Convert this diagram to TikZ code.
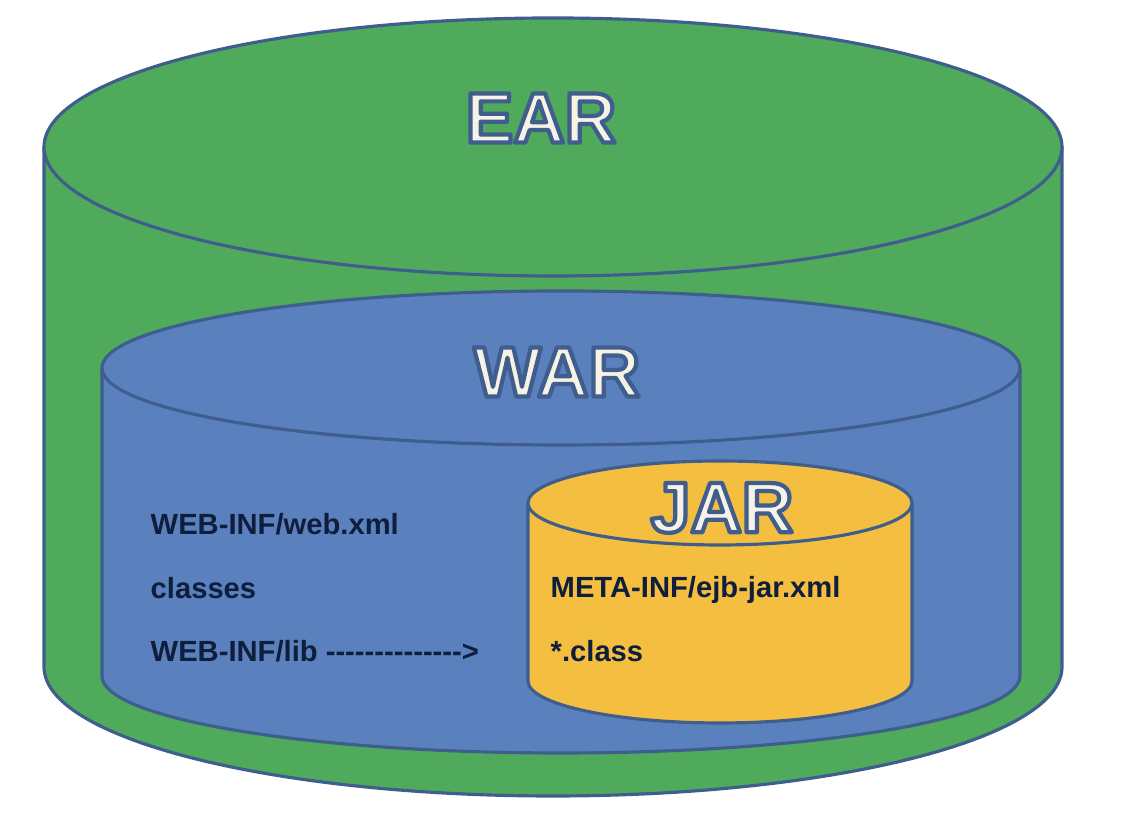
\documentclass[tikz,border=0pt]{standalone}
\usepackage{fontspec}
\setmainfont{Liberation Sans}[Ligatures=TeXOff]
\usepackage{xcolor}
\usepackage{tikz}
\usetikzlibrary{positioning, calc}

\definecolor{earGreen}{RGB}{79,171,91}
\definecolor{warBlue}{RGB}{90,128,189}
\definecolor{jarYellow}{RGB}{244,190,64}
\definecolor{rimBlue}{RGB}{63,94,142}
\definecolor{fileNavy}{RGB}{15,30,60}
\definecolor{titleWhite}{RGB}{246,243,230}

% outlined title text (fill and stroke)
\newcommand{\rimtext}[1]{\special{pdf:literal direct 2 Tr 1.2 w 1 j 0.247 0.369 0.557 RG}#1\special{pdf:literal direct 0 Tr}}

\tikzset{
  rim/.style={draw=rimBlue, line width=0.9pt},
  title/.style={font=\fontsize{20.3}{24}\selectfont\bfseries, text=titleWhite, inner sep=0pt},
  file/.style={font=\fontsize{8.3}{10}\selectfont\bfseries, text=fileNavy, anchor=base west, inner sep=0pt}
}

\begin{document}
\begin{tikzpicture}[x=0.01cm, y=0.01cm]
\useasboundingbox (0,0) rectangle (1124,816);

% Cylinders: name / centre x / top y / bottom y / radii / colour
\foreach \name/\cx/\ty/\by/\rx/\ry/\col in {
    ear/553/669/149/509/129/earGreen,
    war/561/448/140/459/77/warBlue,
    jar/720/313/135/192/42/jarYellow} {
   \fill[\col] (\cx-\rx,\ty) -- (\cx-\rx,\by) arc[start angle=180, end angle=360, x radius=\rx, y radius=\ry] -- (\cx+\rx,\ty) -- cycle;
   \draw[rim] (\cx-\rx,\ty) -- (\cx-\rx,\by) arc[start angle=180, end angle=360, x radius=\rx, y radius=\ry] -- (\cx+\rx,\ty);
   \draw[rim, fill=\col] (\cx,\ty) ellipse[x radius=\rx, y radius=\ry];
   \coordinate (\name top) at (\cx,\ty);
}

% Titles
\node[title] (eartitle) at (541,698) {\rimtext{EAR}};
\node[title] (wartitle) at (557,444) {\rimtext{WAR}};
\node[title] (jartitle) at (722,308) {\rimtext{JAR}};

% WAR contents
\node[file] (webxml) at (150,281) {WEB-INF/web.xml};
\node[file] (classes) at (150,217) {classes};
\node[file] (weblib) at (150,154) {WEB-INF/lib -------------->};

% JAR contents
\node[file] (ejbxml) at (550,218) {META-INF/ejb-jar.xml};
\node[file] (classfiles) at (550,154) {*.class};
\end{tikzpicture}
\end{document}
